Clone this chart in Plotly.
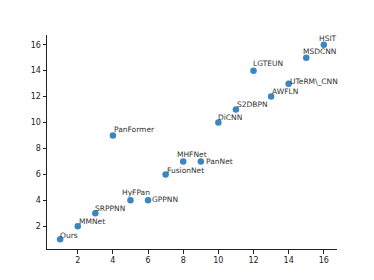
import plotly.graph_objects as go

methods = ["Ours", "MMNet", "SRPPNN", "HyFPan", "GPPNN", "FusionNet", "MHFNet", "PanNet",
           "PanFormer", "DiCNN", "S2DBPN", "AWFLN", "UTeRM\\_CNN", "LGTEUN", "MSDCNN", "HSIT"]
x_vals = [1, 2, 3, 5, 6, 7, 8, 9, 4, 10, 11, 13, 14, 12, 15, 16]
y_vals = [1, 2, 3, 4, 4, 6, 7, 7, 9, 10, 11, 12, 13, 14, 15, 16]
tick_vals = [2, 4, 6, 8, 10, 12, 14, 16]

# label pixel offsets (styling)
dx = [-2, -1, -2, -10, 2, -1, -8, 3, -1, -2, -1, -1, -1, -3, -5, -7]
dy = [4, 5, 5, 8, 1, 4, 7, 0, 6, 5, 5, 5, 2, 7, 6, 6]

fig = go.Figure()
fig.add_trace(go.Scatter(
    x=x_vals, y=y_vals, mode="markers",
    marker=dict(size=6.5, color="#3a86c1", line=dict(width=0)),
    hoverinfo="skip", showlegend=False,
))

for m, xv, yv, ox, oy in zip(methods, x_vals, y_vals, dx, dy):
    fig.add_annotation(x=xv, y=yv, text=m, showarrow=False,
                       xanchor="left", yanchor="middle",
                       xshift=ox, yshift=oy,
                       font=dict(family="DejaVu Sans", size=7.5, color="#333333"))

axis_common = dict(
    range=[0.25, 16.75], tickvals=tick_vals, ticktext=[str(v) for v in tick_vals],
    showgrid=False, zeroline=False, showline=True, linecolor="#222222", linewidth=1,
    ticks="outside", ticklen=3.5, tickwidth=1, tickcolor="#222222",
    tickfont=dict(family="DejaVu Sans", size=8, color="#222222"),
)

fig.update_layout(
    width=374, height=280,
    margin=dict(l=39, r=45, t=27, b=39),
    paper_bgcolor="white", plot_bgcolor="white",
    xaxis=axis_common,
    yaxis=axis_common,
)

fig.write_html("out.html")
